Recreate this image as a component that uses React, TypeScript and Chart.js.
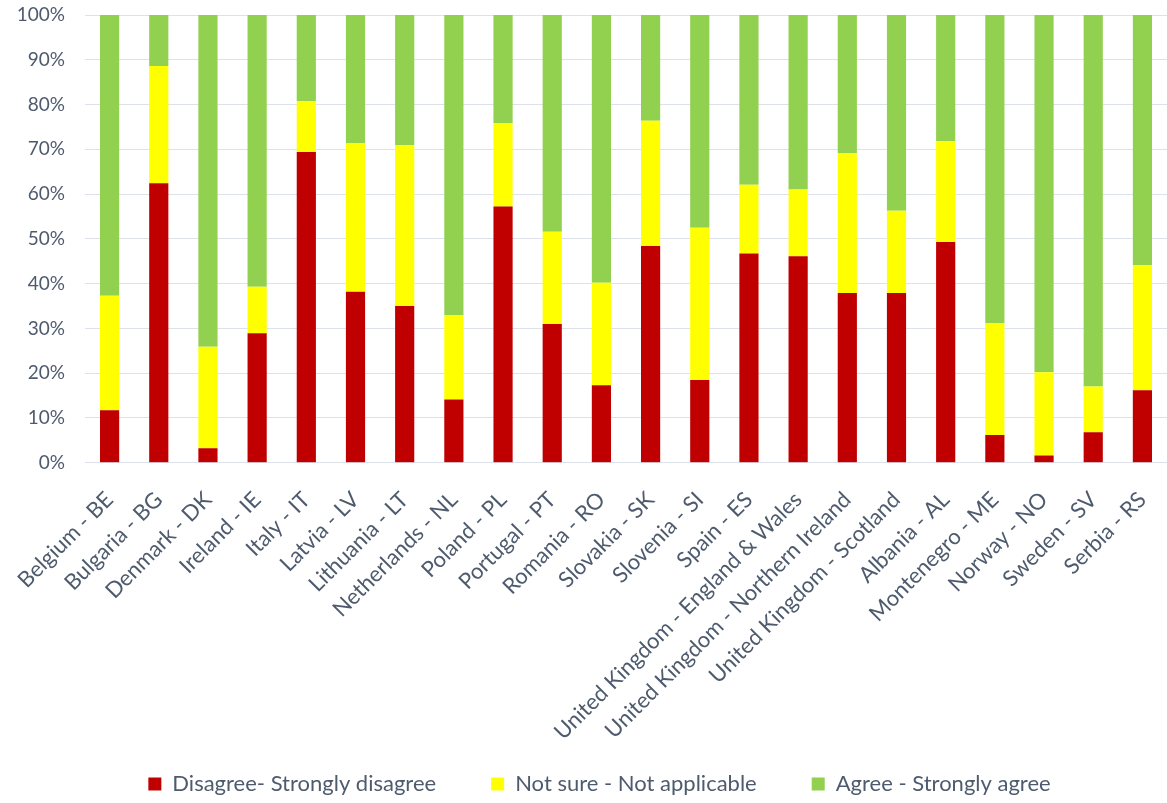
import React, { useEffect, useRef } from "react";
import { Chart, registerables } from "chart.js";

Chart.register(...registerables);

const categories = [
  "Belgium - BE",
  "Bulgaria - BG",
  "Denmark - DK",
  "Ireland - IE",
  "Italy - IT",
  "Latvia - LV",
  "Lithuania - LT",
  "Netherlands - NL",
  "Poland - PL",
  "Portugal - PT",
  "Romania - RO",
  "Slovakia - SK",
  "Slovenia - SI",
  "Spain - ES",
  "United Kingdom - England & Wales",
  "United Kingdom - Northern Ireland",
  "United Kingdom - Scotland",
  "Albania - AL",
  "Montenegro - ME",
  "Norway - NO",
  "Sweden - SV",
  "Serbia - RS",
];

const disagree = [11.7, 62.4, 3.2, 28.9, 69.4, 38.2, 35.0, 14.1, 57.2, 31.0, 17.3, 48.4, 18.5, 46.7, 46.1, 37.9, 37.9, 49.3, 6.2, 1.6, 6.8, 16.2];
const notSure = [25.6, 26.2, 22.7, 10.4, 11.4, 33.2, 35.9, 18.9, 18.6, 20.6, 22.9, 28.0, 34.0, 15.4, 14.9, 31.3, 18.4, 22.5, 25.0, 18.6, 10.2, 27.9];
const agree = [62.7, 11.4, 74.1, 60.7, 19.2, 28.6, 29.1, 67.0, 24.2, 48.4, 59.8, 23.6, 47.5, 37.9, 39.0, 30.8, 43.7, 28.2, 68.8, 79.8, 83.0, 55.9];

const seriesNames = ["Disagree- Strongly disagree", "Not sure - Not applicable", "Agree - Strongly agree"];
const seriesColors = ["#C00000", "#FFFF00", "#92D050"];

const yMin = 0;
const yMax = 100;
const yStep = 10;

const TEXT = "#4E5B6E";
const FONT = "Lato";

const layoutTweak = {
  id: "layoutTweak",
  afterLayout(chart: any) {
    const l = chart.legend;
    if (l) {
      l.left += 16;
      l.right += 16;
    }
    const x = chart.scales.x;
    if (x) {
      // let the long rotated labels extend beyond the axis box without being clipped
      x.bottom = chart.height;
    }
  },
};

export default function App() {
  const ref = useRef<HTMLCanvasElement | null>(null);

  useEffect(() => {
    if (!ref.current) return;
    const values = [disagree, notSure, agree];
    const chart = new Chart(ref.current, {
      type: "bar",
      data: {
        labels: categories,
        datasets: values.map((v, i) => ({
          label: seriesNames[i],
          data: v,
          backgroundColor: seriesColors[i],
          borderWidth: 0,
          barPercentage: 0.39,
          categoryPercentage: 1,
        })),
      },
      plugins: [layoutTweak],
      options: {
        responsive: false,
        animation: false,
        devicePixelRatio: 1,
        layout: { padding: { top: 15, left: 0, right: 0, bottom: -2 } },
        plugins: {
          tooltip: { enabled: false },
          legend: {
            position: "bottom",
            labels: {
              boxWidth: 13,
              boxHeight: 13,
              padding: 55,
              color: TEXT,
              font: { family: FONT, size: 22 },
            },
          },
        },
        scales: {
          x: {
            stacked: true,
            grid: { display: false },
            border: { display: false },
            ticks: {
              autoSkip: false,
              minRotation: 45,
              maxRotation: 45,
              padding: 16,
              color: TEXT,
              font: { family: FONT, size: 22 },
            },
            afterFit: (scale: any) => {
              scale.height = 255.3;
              scale.paddingLeft = 0;
              scale.paddingRight = 0;
            },
          },
          y: {
            stacked: true,
            min: yMin,
            max: yMax,
            ticks: {
              stepSize: yStep,
              padding: 20,
              color: TEXT,
              font: { family: FONT, size: 19 },
              callback: (v: any) => v + "%",
            },
            grid: { color: "#DDE2EA", lineWidth: 1, drawTicks: false },
            border: { display: false },
            afterFit: (scale: any) => {
              scale.width = 85;
              scale.paddingTop = 0;
              scale.paddingBottom = 0;
            },
          },
        },
      },
    });
    return () => chart.destroy();
  }, []);

  return (
    <div style={{ position: "fixed", left: 0, top: 0, width: 1167, height: 803, background: "#fff" }}>
      <canvas ref={ref} width={1167} height={803} style={{ width: 1167, height: 803 }} />
    </div>
  );
}
